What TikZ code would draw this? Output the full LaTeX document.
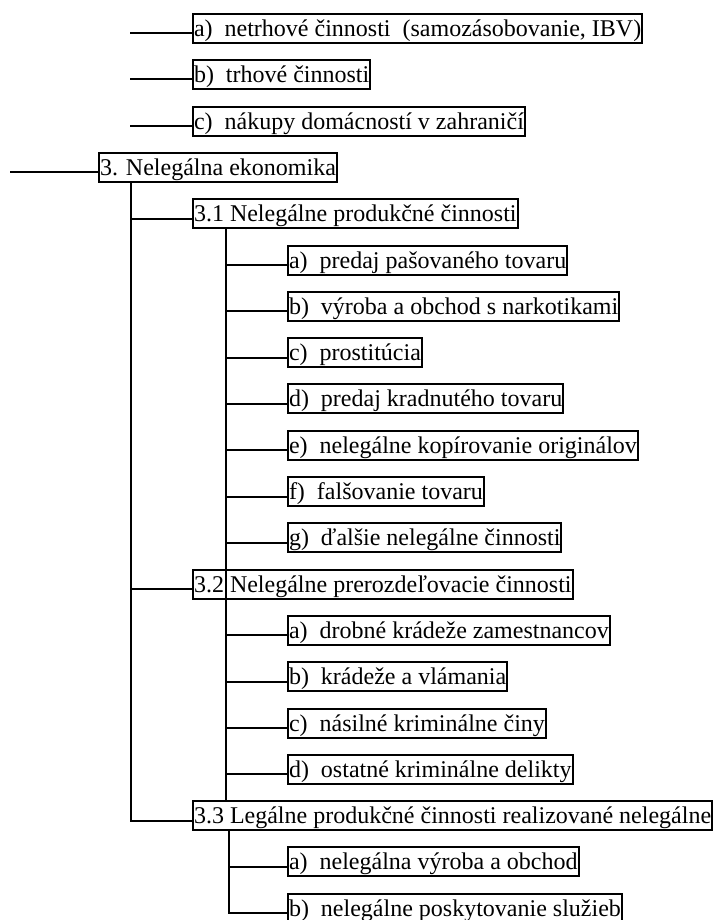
\documentclass[tikz,border=0pt]{standalone}
\usepackage{fontspec}
\setmainfont{Liberation Serif}
\usetikzlibrary{positioning,calc}

\begin{document}
\begin{tikzpicture}
	[x=0.5pt,y=-0.5pt,
	box/.style={draw=black,line width=1pt,anchor=north west,inner xsep=0.5pt,inner ysep=0.25pt,
		text height=11pt,text depth=3pt,font=\fontsize{12}{14}\selectfont},
	ln/.style={line width=1pt}]
	\useasboundingbox (0,0) rectangle (714,920);
	\begin{scope}
	%LEVEL 0
	\foreach \i/\t in {0/{a)~~netrhové činnosti~~(samozásobovanie, IBV)},1/{b)~~trhové činnosti},2/{c)~~nákupy domácností v zahraničí}}
	{
		\node[box] (n\i) at (192,{13+46.3*\i}) {\t};
		\coordinate (e\i) at (130,{33+46.3*\i});
		\draw[ln] (e\i) -- (e\i -| n\i.west);
	};
	\node[box] (r) at (98,{13+46.3*3}) {3. Nelegálna ekonomika};
	\coordinate (e3) at (10,{33+46.3*3});
	\draw[ln] (e3) -- (e3 -| r.west);
	%LEVEL 1
	\foreach \i/\r/\t in {1/4/{3.1 Nelegálne produkčné činnosti},2/12/{3.2 Nelegálne prerozdeľovacie činnosti},3/17/{3.3 Legálne produkčné činnosti realizované nelegálne}}
	{
		\node[box] (s\i) at (192,{13+46.3*\r}) {\t};
		\coordinate (s\i w) at ([yshift=1.5pt]s\i.base west);
	};
	\coordinate (v0) at (131,0);
	\draw[ln] (r.south -| v0) -- (s3w -| v0) -- (s3w);
	\foreach \i in {1,2}
	\draw[ln] (s\i w -| v0) -- (s\i w);
	%LEVEL 2
	\foreach \k/\r/\t in {a/5/{a)~~predaj pašovaného tovaru},b/6/{b)~~výroba a obchod s narkotikami},c/7/{c)~~prostitúcia},d/8/{d)~~predaj kradnutého tovaru},e/9/{e)~~nelegálne kopírovanie originálov},f/10/{f)~~falšovanie tovaru},g/11/{g)~~ďalšie nelegálne činnosti}}
	{
		\node[box] (c1\k) at (287,{13+46.3*\r}) {\t};
		\coordinate (c1\k w) at ([yshift=1.5pt]c1\k.base west);
	};
	\foreach \k/\r/\t in {a/13/{a)~~drobné krádeže zamestnancov},b/14/{b)~~krádeže a vlámania},c/15/{c)~~násilné kriminálne činy},d/16/{d)~~ostatné kriminálne delikty}}
	{
		\node[box] (c2\k) at (287,{13+46.3*\r}) {\t};
		\coordinate (c2\k w) at ([yshift=1.5pt]c2\k.base west);
	};
	\foreach \k/\r/\t in {a/18/{a)~~nelegálna výroba a obchod},b/19/{b)~~nelegálne poskytovanie služieb}}
	{
		\node[box] (c3\k) at (287,{13+46.3*\r}) {\t};
		\coordinate (c3\k w) at ([yshift=1.5pt]c3\k.base west);
	};
	\coordinate (v1) at (226,0);
	\draw[ln] (s1.south -| v1) -- (s3.north -| v1);
	\foreach \k in {a,b,c,d,e,f,g}
	\draw[ln] (c1\k w -| v1) -- (c1\k w);
	\foreach \k in {a,b,c,d}
	\draw[ln] (c2\k w -| v1) -- (c2\k w);
	\coordinate (v3) at (229,0);
	\draw[ln] (s3.south -| v3) -- (c3bw -| v3) -- (c3bw);
	\draw[ln] (c3aw -| v3) -- (c3aw);
	\end{scope}
\end{tikzpicture}
\end{document}
